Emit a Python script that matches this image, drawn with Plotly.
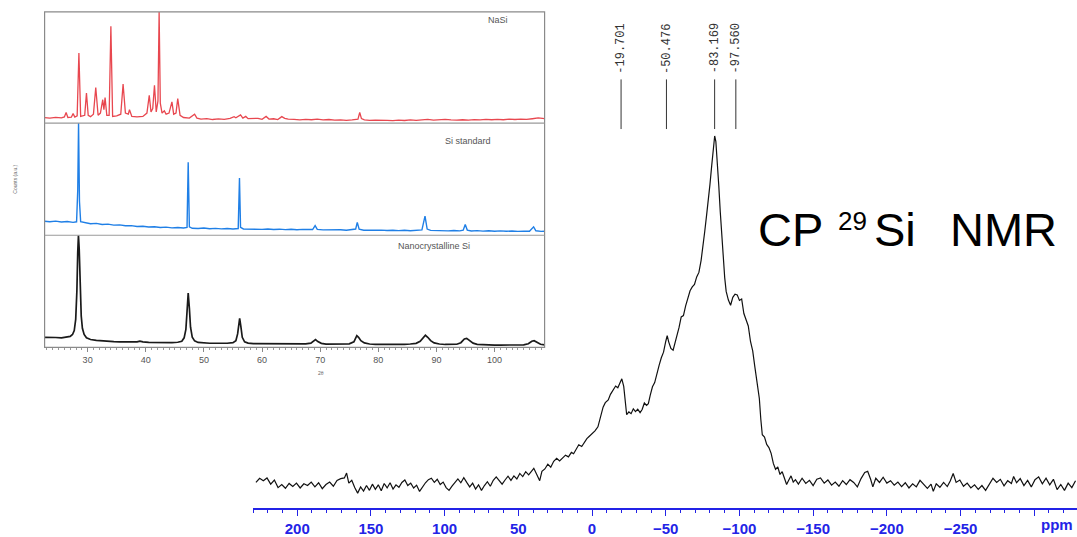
import plotly.graph_objects as go

W, H = 1077, 537

# ---------------- CP 29Si NMR spectrum (ppm, relative intensity) ----------------
nmr_ppm = [
    228, 225.5, 223, 220.5, 218, 215.5, 213, 210.5, 208, 205.5, 203, 200.5, 198, 195.5, 193, 190.5,
    188, 185.5, 183, 180.5, 178, 175.5, 173, 170.5, 168, 166.5, 165, 163, 161, 159, 157, 155, 153,
    151, 149, 147, 145, 143, 141, 139, 137, 135, 133, 131, 129, 127, 125, 123, 121, 119, 117, 115,
    113, 111, 109, 107, 105, 103, 101, 99, 97, 95, 93, 91, 89, 87, 85, 83, 81, 79, 77, 75, 73, 71,
    69, 67, 65, 63, 61, 59, 57, 55, 53, 51, 49, 47, 45, 43, 41, 39.5, 37.5, 35.5, 34, 32, 30, 28,
    26, 24, 22, 20, 18, 16, 14, 12.5, 11, 9, 7, 5, 3.5, 2, 0, -2, -4, -5.5, -7.5, -9, -11, -12.5,
    -14.5, -16, -17.5, -19, -20.2, -21.5, -22.5, -23.5, -25, -26.5, -28, -29.5, -31, -32.6, -34,
    -35.5, -37, -38.2, -39.5, -41, -42.5, -44, -45.5, -47, -48.5, -50, -51, -52, -53.5, -55, -56.2,
    -57.5, -59, -60.5, -62, -63.5, -65, -66.5, -68, -69.5, -71, -72.5, -74, -75.3, -76.5, -77.7,
    -78.9, -80, -81.2, -82.3, -83.2, -84, -85, -86, -87, -88, -89, -90, -91, -92.5, -94, -95.5, -97,
    -98.5, -100, -101.5, -103, -104.5, -106, -107.5, -109, -110.5, -112, -113.5, -114.5, -115.5,
    -117, -118.5, -120, -121.5, -123, -124.5, -126, -127.5, -129, -130.5, -132, -133.5, -135,
    -136.5, -138, -140, -142.5, -145, -147.5, -150, -152.5, -155, -157.5, -160, -162.5, -165,
    -167.5, -170, -172.5, -175, -177.5, -180, -182.5, -185, -187, -189, -190.5, -192.5, -195,
    -197.5, -200, -202.5, -205, -207.5, -210, -212.5, -215, -217.5, -220, -222.5, -225, -227.5,
    -230, -231.5, -233.5, -236, -238.5, -241, -243, -245, -247, -249.5, -252, -254.5, -257,
    -259.5, -262, -264.5, -267, -269.5, -272, -274.5, -277, -279.5, -282, -284.5, -286, -288,
    -290.5, -293, -295.5, -298, -300.5, -303, -305.5, -308, -310.5, -313, -315.5, -318, -320.5,
    -323, -325.5, -328,
]
nmr_int = [
    -0.3, 0.9, 0.2, 1.0, -0.8, 0.4, -1.8, -0.9, -2.0, -0.6, -1.5, -0.5, -1.9, -0.7, -1.2, -0.2,
    -1.6, -0.4, -2.1, -0.9, -0.2, -1.4, 0.3, 0.8, 1.0, 2.4, -0.5, 0.3, -1.8, -3.4, -1.6, -2.8, -1.2,
    -2.6, -0.8, -2.3, -1.0, -2.7, -0.6, -1.9, -0.4, -2.2, -1.0, -1.7, -0.3, 0.4, -1.2, -0.5, -1.9,
    -1.1, -2.9, -1.5, -0.4, 0.5, 0.9, -0.3, 0.6, -0.9, -0.2, -1.8, -2.6, -1.4, -0.2, 0.7, -0.4, 1.1,
    -0.3, -1.6, -0.5, -2.2, -1.0, -2.6, -1.2, -0.1, -1.4, 0.3, 1.3, 0.2, -0.8, 0.4, 1.5, 0.3, 1.6,
    0.7, 2.3, 1.4, 2.8, 1.9, 3.1, 3.8, 2.0, 0.2, 2.9, 3.6, 5.0, 4.1, 5.8, 6.7, 5.9, 6.8, 7.6, 7.1,
    8.4, 8.0, 9.0, 10.6, 10.1, 11.5, 12.4, 13.0, 13.7, 14.6, 15.8, 18.5, 21.5, 22.8, 23.6, 25.2,
    26.4, 27.6, 27.1, 28.4, 29.7, 27.5, 22.0, 19.3, 20.1, 19.6, 21.0, 20.2, 20.9, 19.9, 20.8, 22.7,
    22.0, 22.5, 25.0, 27.4, 28.6, 31.5, 33.6, 35.8, 37.4, 40.5, 42.2, 40.4, 38.5, 38.0, 39.8, 42.5,
    44.5, 47.6, 48.0, 50.8, 53.4, 55.2, 56.3, 57.0, 59.2, 60.5, 64.0, 68.0, 72.5, 77.0, 81.3, 86.0,
    91.5, 96.0, 100.0, 98.4, 93.0, 85.5, 78.0, 71.0, 65.0, 59.0, 55.0, 52.5, 51.0, 53.3, 54.2, 54.0,
    52.4, 52.8, 48.6, 46.5, 45.0, 40.5, 37.8, 33.0, 28.0, 24.0, 18.0, 13.5, 12.8, 10.7, 9.8, 8.1,
    5.2, 3.5, 4.2, 2.0, 2.8, 1.0, -0.9, 0.4, 1.6, -0.2, 0.5, -0.8, 0.9, -0.6, 0.3, -1.2, 0.6, 1.0,
    -0.5, 0.4, -1.1, -0.2, -1.4, 0.2, -0.9, 0.5, -0.3, -1.6, 0.8, 2.6, 2.9, 0.6, -1.6, 0.9, -0.3,
    1.2, -0.5, 0.2, -1.1, -0.2, -1.5, -0.4, -1.9, -0.7, -1.6, 0.3, -0.9, -2.0, -0.8, -2.9, -0.7,
    -1.7, -0.3, -1.5, 0.1, 2.3, -0.3, 0.4, -1.4, -0.5, -1.9, -1.0, -2.3, -1.2, -2.6, -0.8, 0.9,
    -0.3, 0.6, -1.3, 0.2, -0.6, 1.4, -0.4, 0.8, -1.2, 0.3, -1.6, 0.5, 1.3, -0.7, 0.9, -1.0, 0.6,
    -2.4, -0.9, -2.6, -0.5, -1.8, 0.2,
]
peak_ppm = [-19.701, -50.476, -83.169, -97.560]
peak_labels = ["-19.701", "-50.476", "-83.169", "-97.560"]

# ---------------- XRD inset (2theta, relative counts) ----------------
nasi_2t = [
    22.6, 23.5, 24.5, 25.5, 26.0, 26.3, 26.6, 27.2, 27.5, 27.8, 28.2, 28.5, 28.8, 29.5, 29.8, 30.1,
    30.5, 31.0, 31.4, 31.8, 32.2, 32.6, 32.8, 33.0, 33.3, 33.7, 34.0, 34.3, 35.0, 35.7, 36.1, 36.5,
    37.0, 37.2, 37.6, 38.5, 39.5, 40.2, 40.6, 40.9, 41.2, 41.5, 41.8, 42.1, 42.3, 42.5, 42.8, 43.2,
    43.5, 44.0, 44.5, 44.8, 45.2, 45.5, 45.9, 46.5, 47.5, 48.4, 48.8, 49.5, 50.5, 51.5, 52.5, 53.5,
    54.5, 55.2, 55.5, 55.8, 56.3, 56.7, 57.2, 57.6, 58.5, 59.3, 60.0, 60.7, 61.2, 62.0, 62.7, 63.4,
    63.9, 64.5, 65.5, 66.5, 67.5, 68.5, 69.5, 70.5, 71.5, 72.5, 73.5, 74.5, 75.5, 76.5, 76.8, 77.1,
    77.6, 78.5, 79.5, 80.5, 81.5, 82.5, 83.5, 84.5, 85.5, 86.5, 87.5, 88.5, 89.5, 90.5, 91.5, 92.5,
    93.5, 94.5, 95.5, 96.5, 97.5, 98.5, 99.5, 100.5, 101.5, 102.5, 103.5, 104.5, 105.5, 106.5,
    107.5, 108.6,
]
nasi_counts = [
    5, 4.4, 5.2, 4.6, 5.5, 9.5, 5.0, 5.3, 8.5, 5.4, 6.5, 63, 6, 7, 27, 7, 5.8, 8, 32, 7, 9, 21, 12,
    23, 7, 7, 87, 6, 6.5, 8, 35, 9, 8, 12, 6, 5.5, 6, 9, 25, 10, 13, 34, 10, 20, 100, 18, 9, 11, 8,
    9, 19, 8, 9, 22, 7, 5, 4.5, 8, 4.5, 3.6, 4.0, 3.2, 3.8, 3.4, 4.2, 5.8, 4.8, 5.5, 7.3, 4.5, 6.0,
    4.0, 3.8, 4.3, 3.4, 6.0, 3.6, 3.9, 3.2, 5.8, 4.3, 3.5, 3.3, 2.8, 3.3, 3.0, 3.5, 2.9, 3.2, 2.6,
    2.9, 2.5, 2.8, 3.5, 9.5, 4.0, 2.8, 2.4, 2.7, 2.3, 2.5, 2.2, 2.6, 2.3, 2.9, 2.4, 2.8, 3.3, 2.7,
    2.9, 3.4, 2.9, 2.6, 3.0, 2.7, 3.1, 2.8, 3.3, 3.0, 3.4, 3.0, 3.5, 3.2, 3.6, 3.3, 3.9, 4.6, 4.0,
]
sistd_2t = [
    22.6, 23.5, 24.5, 25.5, 26.5, 27.5, 28.1, 28.3, 28.44, 28.6, 28.8, 29.5, 30.5, 31.5, 32.5, 33.5,
    34.5, 35.5, 36.5, 37.5, 38.5, 39.5, 40.5, 41.5, 42.5, 43.5, 44.5, 45.5, 46.5, 47.1, 47.3, 47.5,
    48.0, 49.0, 50.0, 51.0, 52.0, 53.0, 54.0, 55.0, 55.9, 56.12, 56.3, 56.8, 57.8, 59.0, 60.0, 61.0,
    62.0, 63.0, 64.0, 65.0, 66.0, 67.0, 68.0, 68.7, 69.13, 69.5, 70.5, 71.5, 72.5, 73.5, 74.5, 75.5,
    76.1, 76.38, 76.7, 77.5, 78.5, 79.5, 80.5, 81.5, 82.5, 83.5, 84.5, 85.5, 86.5, 87.5, 88.03,
    88.4, 89.0, 90.0, 91.0, 92.0, 93.0, 94.0, 94.6, 94.95, 95.3, 96.0, 97.0, 98.0, 99.0, 100.0,
    101.0, 102.0, 103.0, 104.0, 105.0, 106.0, 106.71, 107.1, 108.0, 108.6,
]
sistd_counts = [
    12.5, 12.0, 12.6, 11.8, 12.2, 11.5, 12.0, 40, 100, 30, 12.0, 11.0, 10.2, 10.6, 9.6, 9.9, 9.0,
    9.2, 8.4, 8.6, 7.8, 8.0, 7.3, 7.5, 6.9, 7.2, 6.6, 6.9, 6.4, 7.0, 65, 7.5, 6.2, 6.0, 6.4, 5.8,
    6.1, 5.7, 6.0, 5.6, 6.0, 51, 7.0, 5.6, 5.4, 5.7, 5.2, 5.5, 5.1, 5.4, 5.0, 5.3, 4.9, 5.2, 4.8,
    5.1, 8.5, 5.2, 4.8, 5.0, 4.6, 4.9, 4.5, 4.8, 5.5, 11.5, 5.5, 4.5, 4.7, 4.3, 4.6, 4.2, 4.5, 4.1,
    4.4, 4.0, 4.3, 4.8, 17, 5.5, 4.3, 4.0, 4.3, 3.9, 4.2, 3.9, 4.5, 9.5, 4.6, 3.8, 4.1, 3.7, 4.0,
    3.6, 3.9, 3.5, 3.8, 3.4, 3.7, 3.6, 7.5, 4.0, 3.4, 3.6,
]
nano_2t = [
    22.6, 23.5, 24.5, 25.5, 26.5, 27.0, 27.4, 27.7, 27.95, 28.15, 28.3, 28.42, 28.55, 28.7, 28.9,
    29.1, 29.4, 29.8, 30.5, 31.5, 32.5, 33.5, 34.5, 35.5, 36.5, 37.5, 38.5, 39.0, 39.5, 40.5, 41.5,
    42.5, 43.5, 44.5, 45.5, 46.2, 46.6, 46.9, 47.1, 47.3, 47.5, 47.7, 48.0, 48.4, 49.0, 50.0, 51.0,
    52.0, 53.0, 54.0, 55.0, 55.5, 55.8, 56.0, 56.15, 56.35, 56.6, 57.0, 57.6, 58.5, 59.5, 60.5,
    61.5, 62.5, 63.5, 64.5, 65.5, 66.5, 67.5, 68.4, 68.9, 69.2, 69.6, 70.2, 71.0, 72.0, 73.0, 74.0,
    75.0, 75.8, 76.3, 76.6, 77.0, 77.6, 78.5, 79.5, 80.5, 81.5, 82.5, 83.5, 84.5, 85.5, 86.5, 87.2,
    87.7, 88.1, 88.5, 89.0, 89.6, 90.5, 91.5, 92.5, 93.5, 94.2, 94.8, 95.2, 95.7, 96.3, 97.0, 98.0,
    99.0, 100.0, 101.0, 102.0, 103.0, 104.0, 105.0, 105.8, 106.4, 106.8, 107.3, 107.9, 108.6,
]
nano_counts = [
    9.0, 8.6, 8.8, 8.5, 9.0, 9.8, 11.5, 15, 25, 50, 85, 100, 88, 55, 28, 17, 11.5, 8.5, 7.0, 6.3,
    5.8, 5.5, 5.2, 5.0, 4.8, 4.7, 5.0, 5.6, 5.0, 4.5, 4.3, 4.2, 4.2, 4.3, 4.6, 5.5, 8.5, 16, 32,
    48.5, 35, 18, 9, 5.8, 4.4, 3.9, 3.7, 3.7, 3.6, 3.7, 4.2, 6.0, 12, 21, 25.8, 19, 9, 5.0, 3.8, 3.4,
    3.3, 3.2, 3.3, 3.2, 3.1, 3.2, 3.1, 3.0, 3.1, 3.8, 6.0, 7.0, 5.2, 3.6, 3.0, 2.9, 3.0, 2.9, 3.2,
    5.0, 10.5, 9.0, 6.0, 4.0, 3.0, 2.7, 2.6, 2.5, 2.6, 2.6, 2.7, 3.0, 3.6, 5.5, 9.0, 10.8, 9.0, 6.0,
    4.0, 3.0, 2.6, 2.5, 2.8, 4.2, 7.5, 8.0, 6.0, 3.8, 2.7, 2.3, 2.2, 2.1, 2.1, 2.0, 2.1, 2.0, 2.2,
    3.2, 5.5, 6.0, 4.5, 2.8, 2.2,
]
xrd_ticks = [30, 40, 50, 60, 70, 80, 90, 100]
panel_names = ["NaSi", "Si standard", "Nanocrystalline Si"]


def px_x(p):
    return p / W


def px_y(p):
    return 1 - p / H


BLUE = "#2323e6"
fig = go.Figure()

fig.add_trace(go.Scatter(x=nmr_ppm, y=nmr_int, mode="lines",
                         line=dict(color="#111111", width=1.2),
                         xaxis="x", yaxis="y", showlegend=False, hoverinfo="skip"))
fig.add_trace(go.Scatter(x=nasi_2t, y=nasi_counts, mode="lines",
                         line=dict(color="#e8474f", width=1.3),
                         xaxis="x2", yaxis="y2", showlegend=False))
fig.add_trace(go.Scatter(x=sistd_2t, y=sistd_counts, mode="lines",
                         line=dict(color="#1f7fe6", width=1.4),
                         xaxis="x3", yaxis="y3", showlegend=False))
fig.add_trace(go.Scatter(x=nano_2t, y=nano_counts, mode="lines",
                         line=dict(color="#1a1a1a", width=1.7),
                         xaxis="x4", yaxis="y4", showlegend=False))

# inset geometry (pixels)
ix0, ix1 = 44.6, 544.6
iy = [12, 124, 237, 350]
xr = [22.6, 108.6]

layout = dict(
    width=W, height=H, margin=dict(l=0, r=0, t=0, b=0),
    paper_bgcolor="white", plot_bgcolor="rgba(0,0,0,0)",
    font=dict(family="Liberation Sans"),
    xaxis=dict(domain=[253 / W, 1], range=[230.0, -329.0], anchor="y",
               showline=True, linecolor=BLUE, linewidth=1.5, showgrid=False, zeroline=False,
               ticks="outside", ticklen=6, tickwidth=1.2, tickcolor=BLUE,
               tick0=0, dtick=50, tickmode="linear",
               labelalias={"−300": ""},
               tickfont=dict(family="Liberation Sans", size=15, color=BLUE, weight="bold"),
               minor=dict(dtick=10, tick0=0, ticks="outside", ticklen=3, tickcolor=BLUE, tickwidth=1)),
    yaxis=dict(domain=[px_y(512), 1], range=[-7.76, 139.37], visible=False, anchor="x"),
)
for i, ax in enumerate(["2", "3", "4"]):
    layout["xaxis" + ax] = dict(domain=[px_x(ix0), px_x(ix1)], range=xr, anchor="y" + ax,
                                showgrid=False, zeroline=False, showline=False,
                                visible=(ax == "4"))
    layout["yaxis" + ax] = dict(domain=[px_y(iy[i + 1]), px_y(iy[i])], range=[0, 100],
                                visible=False, anchor="x" + ax)
layout["xaxis4"].update(tickmode="array", tickvals=xrd_ticks, ticks="outside", ticklen=4,
                        tickcolor="#888", tickwidth=1,
                        tickfont=dict(size=9, color="#555"),
                        minor=dict(dtick=1, tick0=0, ticks="outside", ticklen=2, tickcolor="#999"))
fig.update_layout(**layout)

shapes = []
# inset frame and separators
shapes.append(dict(type="rect", xref="paper", yref="paper", x0=px_x(ix0), x1=px_x(ix1),
                   y0=px_y(iy[3]), y1=px_y(iy[0]), line=dict(color="#8a8a8a", width=1.2)))
for yy in iy[1:3]:
    shapes.append(dict(type="line", xref="paper", yref="paper", x0=px_x(ix0), x1=px_x(ix1),
                       y0=px_y(yy), y1=px_y(yy), line=dict(color="#9a9a9a", width=1.2)))
# NMR peak marker lines
for p in peak_ppm:
    shapes.append(dict(type="line", xref="x", yref="paper", x0=p, x1=p,
                       y0=px_y(130), y1=px_y(80), line=dict(color="#333", width=1)))

annotations = []
for p, t in zip(peak_ppm, peak_labels):
    annotations.append(dict(x=p, y=px_y(49), xref="x", yref="paper", text=t, showarrow=False,
                            xanchor="center", yanchor="middle",
                            textangle=-90, font=dict(family="Liberation Mono", size=12, color="#333")))
# big label
annotations += [
    dict(x=px_x(790), y=px_y(231), xref="paper", yref="paper", text="CP", showarrow=False,
         font=dict(size=47, color="black"), xanchor="center", yanchor="middle"),
    dict(x=px_x(852), y=px_y(223), xref="paper", yref="paper", text="29", showarrow=False,
         font=dict(size=26, color="black"), xanchor="center", yanchor="middle"),
    dict(x=px_x(895), y=px_y(231), xref="paper", yref="paper", text="Si", showarrow=False,
         font=dict(size=47, color="black"), xanchor="center", yanchor="middle"),
    dict(x=px_x(1003), y=px_y(231), xref="paper", yref="paper", text="NMR", showarrow=False,
         font=dict(size=47, color="black"), xanchor="center", yanchor="middle"),
]
# ppm unit label
annotations.append(dict(x=px_x(1057), y=px_y(528), xref="paper", yref="paper", text="ppm",
                        xanchor="center", yanchor="middle",
                        showarrow=False, font=dict(size=15, color=BLUE, weight="bold")))
# inset texts
for (name, cx, cy) in zip(panel_names, [498, 468, 434], [20, 142, 248]):
    annotations.append(dict(x=px_x(cx), y=px_y(cy), xref="paper", yref="paper", text=name,
                            xanchor="center", yanchor="middle",
                            showarrow=False, font=dict(size=9, color="#555")))
annotations.append(dict(x=px_x(15), y=px_y(181), xref="paper", yref="paper", text="Counts (a.u.)",
                        xanchor="center", yanchor="middle",
                        showarrow=False, textangle=-90, font=dict(size=5, color="#666")))
annotations.append(dict(x=px_x(321), y=px_y(376), xref="paper", yref="paper", text="2θ",
                        xanchor="center", yanchor="middle",
                        showarrow=False, font=dict(size=5, color="#666")))

fig.update_layout(shapes=shapes, annotations=annotations)
fig.write_html("out.html")
